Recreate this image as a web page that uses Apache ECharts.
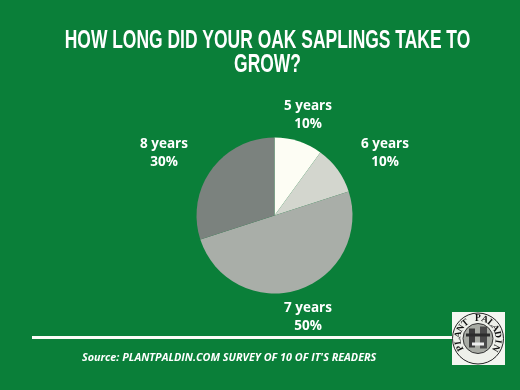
<!DOCTYPE html>
<html><head><meta charset="utf-8">
<style>html,body{margin:0;padding:0;background:#0a7f39}#c{width:520px;height:390px}</style>
<script src="https://cdn.jsdelivr.net/npm/echarts@6/dist/echarts.min.js"></script>
</head><body><div id="c"></div>
<script>
const categories = ['5 years','6 years','7 years','8 years'];
const values = [10,10,50,30];
const sliceColors = ['#fdfdf4','#d3d6ce','#a9aea8','#7b827e'];
const titleLines = ['HOW LONG DID YOUR OAK SAPLINGS TAKE TO','GROW?'];
const sourceText = 'Source: PLANTPALDIN.COM SURVEY OF 10 OF IT\'S READERS';
const logoText = 'PLANT PALADIN';
const labelCentres = [[308,115],[385,153],[308,317],[164,153]];

const logoCx = 478, logoCy = 338.5;
const logoElems = [
  {type:'rect',shape:{x:452,y:312,width:53,height:53},style:{fill:'#f4f6f1'}},
  {type:'circle',shape:{cx:logoCx,cy:logoCy,r:25.5},style:{fill:'#eef0ea',stroke:'#222',lineWidth:1}},
  {type:'circle',shape:{cx:logoCx,cy:logoCy,r:15},style:{fill:'#a8aba4',stroke:'#333',lineWidth:1}},
  {type:'rect',shape:{x:logoCx-9,y:logoCy-10,width:6,height:19},style:{fill:'#3c3c3c'}},
  {type:'rect',shape:{x:logoCx+2,y:logoCy-12,width:7,height:22},style:{fill:'#4a4a4a'}},
  {type:'rect',shape:{x:logoCx-12,y:logoCy-5,width:24,height:3},style:{fill:'#2c2c2c'}},
  {type:'rect',shape:{x:logoCx-6,y:logoCy+4,width:12,height:3},style:{fill:'#eee'}}
];
const letters = logoText.split('');
letters.forEach((ch,i)=>{
  const a = (-118 + i*236/(letters.length-1))*Math.PI/180;
  logoElems.push({type:'text',x:logoCx+Math.sin(a)*20,y:logoCy-Math.cos(a)*20,rotation:-a,
    style:{text:ch,fill:'#111',font:'bold 9.5px "Liberation Serif"',align:'center',verticalAlign:'middle'}});
});

const titleElems = titleLines.map((t,i)=>({type:'text',x:267.5,y:41+i*24.5,scaleX:0.698,
  style:{text:t,fill:'#fff',font:'bold 25px "Liberation Sans"',align:'center',verticalAlign:'middle'}}));

const chart = echarts.init(document.getElementById('c'),null,{renderer:'canvas'});
chart.setOption({
  backgroundColor:'#0a7f39',
  animation:false,
  series:[{
    type:'pie',center:[274.5,215.5],radius:[0,78],startAngle:90,clockwise:true,
    itemStyle:{borderWidth:0},
    label:{show:true,position:'outside',formatter:p=>p.name+'\n'+Math.round(p.value)+'%',
      color:'#fff',fontFamily:'"Open Sans"',fontWeight:'bold',fontSize:13.5,lineHeight:18.5,align:'center'},
    labelLine:{show:false},
    labelLayout:p=>{const c=labelCentres[p.dataIndex];return {x:c[0],y:c[1],align:'center',verticalAlign:'middle'};},
    emphasis:{disabled:true},
    data:categories.map((n,i)=>({name:n,value:values[i],itemStyle:{color:sliceColors[i]}}))
  }],
  graphic:[
    ...titleElems,
    {type:'rect',shape:{x:32,y:336,width:422,height:3},style:{fill:'#fbfdf8'}},
    {type:'text',x:82,y:357.5,style:{text:sourceText,fill:'#fff',font:'italic bold 10.8px "Open Sans"',verticalAlign:'middle'}},
    ...logoElems
  ]
});
</script></body></html>
